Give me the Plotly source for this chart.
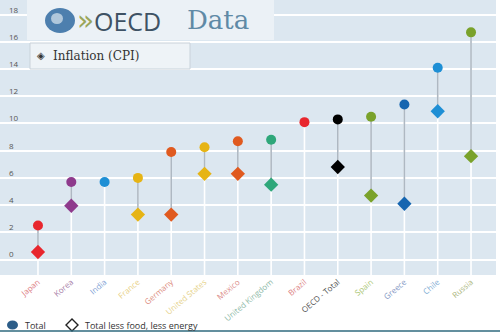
import plotly.graph_objects as go

countries = ["Japan", "Korea", "India", "France", "Germany", "United States", "Mexico",
             "United Kingdom", "Brazil", "OECD - Total", "Spain", "Greece", "Chile", "Russia"]
total = [2.5, 5.7, 5.7, 6.0, 7.9, 8.25, 8.7, 8.8, 10.1, 10.3, 10.5, 11.4, 14.1, 16.7]
core = [0.55, 3.95, None, 3.3, 3.3, 6.3, 6.3, 5.5, None, 6.8, 4.7, 4.1, 10.9, 7.6]
colors = ["#e8262d", "#8e3a8c", "#1e8fd5", "#e6b414", "#e05a1f", "#e6b414", "#e05a1f",
          "#2ea77a", "#e8262d", "#000000", "#7aa22b", "#1565b0", "#1e8fd5", "#7aa22b"]
label_colors = ["#dc7a80", "#a47aa4", "#7ca0d4", "#e8cf82", "#dc8c7e", "#e6d28a", "#dc8c8a",
                "#8cb8a6", "#dc8080", "#555555", "#aac674", "#7e94c2", "#7caad2", "#acb67e"]
y_ticks = [0, 2, 4, 6, 8, 10, 12, 14, 16, 18]
legend_names = ["Total", "Total less food, less energy"]

W, H = 500, 334
L, R, T, B = 0, 4, 0, 59
PW, PH = W - L - R, H - T - B
YMIN, YMAX = -1.14, 19.08


def px(x):
    return (x - L) / PW


def py(y):
    return (T + PH - y) / PH


xs = list(range(len(countries)))
fig = go.Figure()

# white vertical stems from bottom to the Total marker
wx, wy = [], []
for i, t in zip(xs, total):
    wx += [i, i, None]
    wy += [YMIN, t, None]
fig.add_trace(go.Scatter(x=wx, y=wy, mode="lines", line=dict(color="white", width=1.6),
                         hoverinfo="skip", showlegend=False))

# grey connector between the two measures
gx, gy = [], []
for i, t, c in zip(xs, total, core):
    if c is not None:
        gx += [i, i, None]
        gy += [c, t, None]
fig.add_trace(go.Scatter(x=gx, y=gy, mode="lines", line=dict(color="#aeb8c2", width=1.6),
                         hoverinfo="skip", showlegend=False))

fig.add_trace(go.Scatter(x=xs, y=core, mode="markers",
                         marker=dict(symbol="diamond", size=11, color=colors, line=dict(width=0)),
                         showlegend=False, name=legend_names[1]))
fig.add_trace(go.Scatter(x=xs, y=total, mode="markers",
                         marker=dict(symbol="circle", size=10, color=colors, line=dict(width=0)),
                         showlegend=False, name=legend_names[0]))

ticktext = [f'<span style="color:{c}">{n}</span>' for n, c in zip(countries, label_colors)]

fig.update_layout(
    width=W, height=H,
    margin=dict(l=L, r=R, t=T, b=B),
    paper_bgcolor="white",
    plot_bgcolor="#dce7f0",
    font=dict(family="Open Sans, DejaVu Sans, sans-serif", size=9, color="#444"),
    xaxis=dict(range=[-1.14, 13.75], tickvals=xs, ticktext=ticktext, tickangle=-40,
               showgrid=False, zeroline=False, showline=False, ticks="",
               tickfont=dict(size=8, family="Open Sans, sans-serif")),
    yaxis=dict(range=[YMIN, YMAX], tickvals=y_ticks, ticktext=[str(v) for v in y_ticks],
               showgrid=True, gridcolor="white", gridwidth=1.5, zeroline=False,
               ticklabelposition="inside", ticklabelshift=-5, ticklabelstandoff=6,
               tickfont=dict(size=8, color="#555")),
    showlegend=False,
)

# diamond path for legend
dcx, dcy, dr = 72, 325, 6
diamond_path = (f"M {px(dcx - dr)} {py(dcy)} L {px(dcx)} {py(dcy - dr)} "
                f"L {px(dcx + dr)} {py(dcy)} L {px(dcx)} {py(dcy + dr)} Z")

shapes = [
    # logo box
    dict(type="rect", xref="paper", yref="paper", x0=px(27), x1=px(274), y0=py(40), y1=py(-2),
         fillcolor="#ebf1f6", line=dict(width=0), layer="above"),
    # inflation box
    dict(type="rect", xref="paper", yref="paper", x0=px(30), x1=px(190), y0=py(69), y1=py(43),
         fillcolor="#eef3f7", line=dict(width=1, color="#c9d2da"), layer="above"),
    # globe
    dict(type="circle", xref="paper", yref="paper", x0=px(45), x1=px(75), y0=py(33), y1=py(8),
         fillcolor="#4d7fae", line=dict(width=0), layer="above"),
    dict(type="circle", xref="paper", yref="paper", x0=px(51), x1=px(63), y0=py(24), y1=py(13),
         fillcolor="#c9d9e6", line=dict(width=0), layer="above", opacity=0.8),
    # legend symbols
    dict(type="circle", xref="paper", yref="paper", x0=px(7), x1=px(18), y0=py(329.5), y1=py(320.5),
         fillcolor="#2c5d88", line=dict(width=0)),
    dict(type="path", xref="paper", yref="paper", path=diamond_path,
         fillcolor="rgba(0,0,0,0)", line=dict(width=1.4, color="#222222")),
    # bottom line
    dict(type="line", xref="paper", yref="paper", x0=px(0), x1=px(500), y0=py(331), y1=py(331),
         line=dict(color="#2f6a7e", width=1.5)),
]
fig.update_layout(shapes=shapes)

annotations = [
    dict(text="»", x=px(75), y=py(20), xanchor="left", yanchor="middle",
         font=dict(size=28, color="#9aa65a", family="DejaVu Sans"), showarrow=False),
    dict(text="OECD", x=px(92), y=py(21), xanchor="left", yanchor="middle",
         font=dict(size=25, color="#3e5264", family="Open Sans, sans-serif"), showarrow=False),
    dict(text="Data", x=px(185), y=py(20), xanchor="left", yanchor="middle",
         font=dict(size=26, color="#5f8aa6", family="DejaVu Serif, serif"), showarrow=False),
    dict(text="◈", x=px(35), y=py(56), xanchor="left", yanchor="middle",
         font=dict(size=10, color="#333", family="DejaVu Sans"), showarrow=False),
    dict(text="Inflation (CPI)", x=px(51), y=py(56), xanchor="left", yanchor="middle",
         font=dict(size=12, color="#333", family="DejaVu Serif, serif"), showarrow=False),
    dict(text=legend_names[0], x=px(23), y=py(325), xanchor="left", yanchor="middle",
         font=dict(size=9, color="#333"), showarrow=False),
    dict(text=legend_names[1], x=px(83), y=py(325), xanchor="left", yanchor="middle",
         font=dict(size=9, color="#333"), showarrow=False),
]
for a in annotations:
    a.update(xref="paper", yref="paper")
fig.update_layout(annotations=annotations)

fig.write_html("out.html")
